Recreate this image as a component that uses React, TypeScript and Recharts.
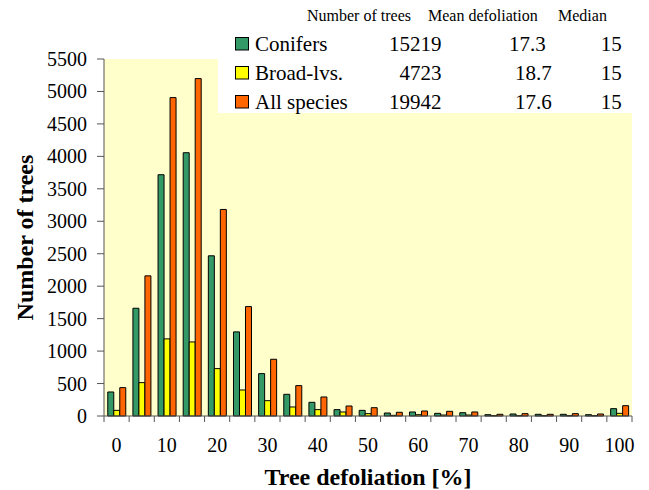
import { BarChart, Bar, XAxis, YAxis, CartesianGrid } from "recharts";

// defoliation classes (%)
const classes = [0, 5, 10, 15, 20, 25, 30, 35, 40, 45, 50, 55, 60, 65, 70, 75, 80, 85, 90, 95, 100];
const conifers = [370, 1660, 3717, 4056, 2468, 1296, 653, 334, 211, 98, 87, 46, 62, 41, 51, 20, 31, 26, 26, 20, 113];
const broadLeaves = [87, 514, 1188, 1141, 730, 401, 236, 139, 98, 62, 36, 10, 20, 15, 15, 5, 5, 5, 5, 5, 41];
const allSpecies = [437, 2159, 4905, 5198, 3182, 1686, 874, 468, 293, 154, 128, 57, 77, 72, 62, 26, 36, 26, 36, 31, 159];
const yTicks = [0, 500, 1000, 1500, 2000, 2500, 3000, 3500, 4000, 4500, 5000, 5500];

const seriesNames = ["Conifers", "Broad-lvs.", "All species"];
const numberOfTrees = ["15219", "4723", "19942"];
const meanDefoliation = ["17.3", "18.7", "17.6"];
const medians = ["15", "15", "15"];

const data = classes.map((c, i) => ({
  cat: c,
  conifers: conifers[i],
  broad: broadLeaves[i],
  all: allSpecies[i],
}));

const W = 649;
const H = 490;
const PLOT_LEFT = 104;
const PLOT_RIGHT = 632;
const PLOT_TOP = 59;
const X_AXIS_H = 74;
const AXIS_Y = H - X_AXIS_H;
const FONT = "Liberation Serif";
const AXIS_COLOR = "#555";
const COLORS = ["#339966", "#FFFF00", "#FF6600"];

const textStyle = (size: number, bold = false): any =>
  bold
    ? { fontFamily: FONT, fontSize: size, fontWeight: "bold", fill: "#000" }
    : { fontFamily: FONT, fontSize: size, fill: "#000" };

const XTick = (props: any) => {
  const { x, index, payload } = props;
  const band = (PLOT_RIGHT - PLOT_LEFT) / classes.length;
  return (
    <g>
      <line x1={x - band / 2} x2={x - band / 2} y1={AXIS_Y} y2={AXIS_Y + 6} stroke={AXIS_COLOR} />
      {index === classes.length - 1 && (
        <line x1={x + band / 2} x2={x + band / 2} y1={AXIS_Y} y2={AXIS_Y + 6} stroke={AXIS_COLOR} />
      )}
      {payload.value % 10 === 0 && (
        <text x={x} y={451.5} textAnchor="middle" style={textStyle(20)}>
          {payload.value}
        </text>
      )}
    </g>
  );
};

const YTick = (props: any) => {
  const { x, y, payload } = props;
  return (
    <text x={x} y={y + 7} textAnchor="end" style={textStyle(20)}>
      {payload.value}
    </text>
  );
};

function LegendTable() {
  const rowBase = [50.5, 79.5, 108.5];
  const meanEnd = [545.7, 551.7, 551.7];
  return (
    <svg width={W} height={120} style={{ position: "absolute", left: 0, top: 0 }}>
      <rect x={218} y={0} width={PLOT_RIGHT - 218} height={113} fill="#fff" />
      <text x={307} y={20.5} style={textStyle(16)}>Number of trees</text>
      <text x={428} y={20.5} style={textStyle(16)}>Mean defoliation</text>
      <text x={558} y={20.5} style={textStyle(16)}>Median</text>
      {seriesNames.map((name, i) => (
        <g key={name}>
          <rect x={235.5} y={rowBase[i] - 13} width={13} height={12.5} fill={COLORS[i]} stroke="#000" />
          <text x={255} y={rowBase[i]} style={textStyle(21)}>{name}</text>
          <text x={441.5} y={rowBase[i]} textAnchor="end" style={textStyle(21)}>{numberOfTrees[i]}</text>
          <text x={meanEnd[i]} y={rowBase[i]} textAnchor="end" style={textStyle(21)}>{meanDefoliation[i]}</text>
          <text x={621.7} y={rowBase[i]} textAnchor="end" style={textStyle(21)}>{medians[i]}</text>
        </g>
      ))}
    </svg>
  );
}

export default function App() {
  return (
    <div style={{ position: "absolute", left: 0, top: 0, width: W, height: H, background: "#fff", fontFamily: FONT }}>
      <BarChart
        width={W}
        height={H}
        data={data}
        margin={{ top: PLOT_TOP, right: W - PLOT_RIGHT, bottom: 0, left: 0 }}
        barCategoryGap="15%"
        barGap={0}
      >
        <CartesianGrid fill="#FFFFCC" horizontal={false} vertical={false} />
        <XAxis
          dataKey="cat"
          height={X_AXIS_H}
          interval={0}
          tickLine={false}
          axisLine={{ stroke: AXIS_COLOR }}
          tick={<XTick />}
          label={{
            value: "Tree defoliation [%]",
            position: "insideBottom",
            offset: 5,
            style: textStyle(24, true),
          }}
        />
        <YAxis
          width={PLOT_LEFT}
          domain={[0, 5500]}
          ticks={yTicks}
          interval={0}
          tickSize={7}
          tickMargin={10}
          axisLine={{ stroke: AXIS_COLOR }}
          tickLine={{ stroke: AXIS_COLOR }}
          tick={<YTick />}
          label={{
            value: "Number of trees",
            angle: -90,
            position: "insideLeft",
            offset: 24.5,
            style: { ...textStyle(24, true), textAnchor: "middle" },
          }}
        />
        <Bar dataKey="conifers" fill={COLORS[0]} stroke="#000" strokeWidth={1} isAnimationActive={false} />
        <Bar dataKey="broad" fill={COLORS[1]} stroke="#000" strokeWidth={1} isAnimationActive={false} />
        <Bar dataKey="all" fill={COLORS[2]} stroke="#000" strokeWidth={1} isAnimationActive={false} />
      </BarChart>
      <LegendTable />
    </div>
  );
}
